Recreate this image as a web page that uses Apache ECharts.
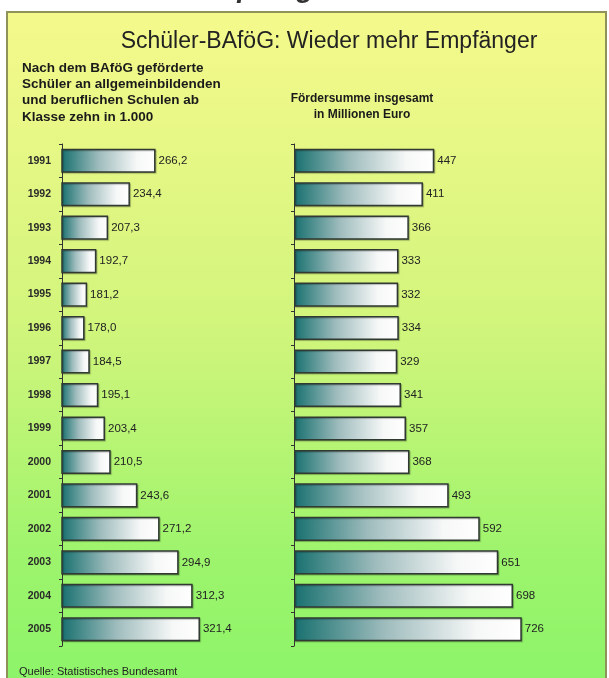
<!DOCTYPE html>
<html><head><meta charset="utf-8">
<script src="https://cdn.jsdelivr.net/npm/echarts@6/dist/echarts.min.js"></script>
<style>html,body{margin:0;padding:0;background:#fff}#c{width:609px;height:678px}</style>
</head><body><div id="c"></div>
<script>
const years = ['1991','1992','1993','1994','1995','1996','1997','1998','1999','2000','2001','2002','2003','2004','2005'];
const pupils = [266.2,234.4,207.3,192.7,181.2,178.0,184.5,195.1,203.4,210.5,243.6,271.2,294.9,312.3,321.4];
const funding = [447,411,366,333,332,334,329,341,357,368,493,592,651,698,726];

const chart = echarts.init(document.getElementById('c'), null, {renderer:'canvas'});
const FONT = '"Liberation Sans",Arial,sans-serif';
const barGrad = new echarts.graphic.LinearGradient(0,0,1,0,[
  {offset:0,color:'#17706f'},{offset:0.4,color:'#9fbcbd'},{offset:0.8,color:'#f6f7f7'},{offset:1,color:'#ffffff'}]);
const barStyle = {color:barGrad, borderColor:'#303a33', borderWidth:1.5,
  shadowColor:'rgba(0,0,0,0.25)', shadowOffsetX:1, shadowOffsetY:1, shadowBlur:1};
const catAxis = (gi, showLabels) => ({
  type:'category', gridIndex:gi, data:years, inverse:true,
  axisLine:{show:true,lineStyle:{color:'#333',width:1}},
  axisTick:{show:true,length:3,lineStyle:{color:'#333'}},
  axisLabel:{show:showLabels, color:'#2a2a2a', fontSize:10.5, fontWeight:'bold', fontFamily:FONT, margin:11}
});
const valAxis = (gi,min,max) => ({type:'value',gridIndex:gi,min:min,max:max,show:false,splitLine:{show:false}});

chart.setOption({
  animation:false,
  graphic:[
    {type:'rect', shape:{x:7,y:12,width:599,height:690}, z:-10,
      style:{fill:new echarts.graphic.LinearGradient(0,0,0,1,[
        {offset:0,color:'#f5f98c'},{offset:0.45,color:'#d2f57c'},{offset:0.8,color:'#9cf46c'},{offset:1,color:'#8af468'}]),
        stroke:'#8f935a', lineWidth:2}},
    {type:'text', x:340, y:-25, z:5, style:{text:'Schüler-BAföG: Mehr Empfänger', align:'right', fill:'#333',
      font:'italic bold 28px "Liberation Sans",Arial,sans-serif'}},
    {type:'text', x:329, y:42, style:{text:'Schüler-BAföG: Wieder mehr Empfänger', align:'center', verticalAlign:'middle', fill:'#222',
      font:'23px "Liberation Sans",Arial,sans-serif'}},
    {type:'text', x:22, y:60, style:{text:'Nach dem BAföG geförderte\nSchüler an allgemeinbildenden\nund beruflichen Schulen ab\nKlasse zehn in 1.000',
      fill:'#1a1a1a', lineHeight:16.3, font:'bold 13.5px '+FONT}},
    {type:'text', x:362, y:91, style:{text:'Fördersumme insgesamt\nin Millionen Euro', align:'center',
      fill:'#1a1a1a', lineHeight:16, font:'bold 12px '+FONT}},
    {type:'text', x:19, y:666, style:{text:'Quelle: Statistisches Bundesamt', fill:'#222', font:'11px '+FONT}}
  ],
  grid:[
    {left:62, top:144, width:161, height:502},
    {left:294, top:144, width:251, height:502}
  ],
  xAxis:[valAxis(0,150,350), valAxis(1,0,800)],
  yAxis:[catAxis(0,true), catAxis(1,false)],
  series:[
    {type:'bar', xAxisIndex:0, yAxisIndex:0, data:pupils, barWidth:'72%', itemStyle:barStyle,
      label:{show:true, position:'right', distance:3, color:'#222', fontSize:11.5, fontFamily:FONT,
        formatter:p=>p.value.toFixed(1).replace('.',',')}},
    {type:'bar', xAxisIndex:1, yAxisIndex:1, data:funding, barWidth:'72%', itemStyle:barStyle,
      label:{show:true, position:'right', distance:3, color:'#222', fontSize:11.5, fontFamily:FONT}}
  ]
});
</script></body></html>
